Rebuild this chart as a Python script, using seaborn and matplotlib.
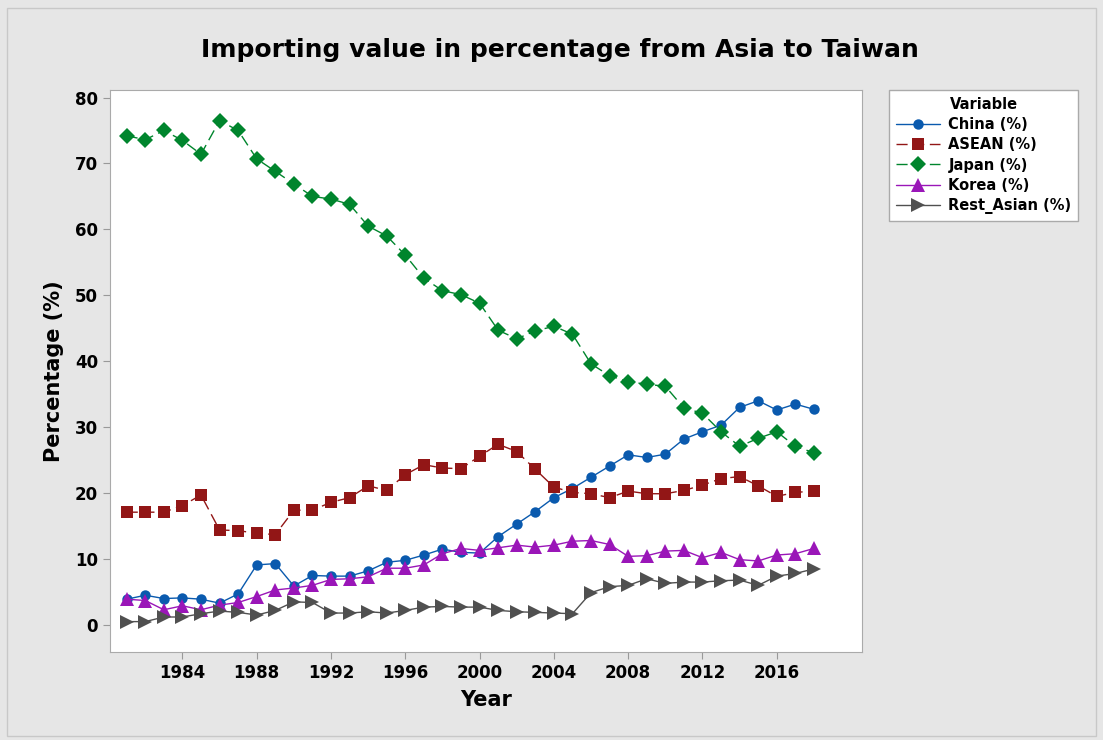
import matplotlib
matplotlib.use("Agg")
import matplotlib.pyplot as plt
import numpy as np
import pandas as pd
import seaborn as sns

years = list(range(1981, 2019))

china = [3.9, 4.5, 4.0, 4.1, 3.9, 3.3, 4.7, 9.1, 9.3, 5.9,
         7.5, 7.4, 7.4, 8.2, 9.5, 9.8, 10.6, 11.5, 11.0, 10.9,
         13.4, 15.3, 17.2, 19.3, 20.7, 22.4, 24.1, 25.8, 25.4, 25.9,
         28.2, 29.3, 30.3, 33.0, 34.0, 32.6, 33.5, 32.7]
asean = [17.1, 17.1, 17.1, 18.1, 19.7, 14.4, 14.3, 13.9, 13.7, 17.4,
         17.4, 18.6, 19.3, 21.1, 20.4, 22.8, 24.3, 23.8, 23.7, 25.6,
         27.4, 26.3, 23.6, 20.9, 20.1, 19.9, 19.3, 20.3, 19.9, 19.9,
         20.4, 21.2, 22.2, 22.5, 21.1, 19.5, 20.1, 20.3]
japan = [74.2, 73.6, 75.0, 73.5, 71.4, 76.5, 75.0, 70.7, 68.8, 66.9,
         65.0, 64.6, 63.8, 60.5, 59.0, 56.1, 52.6, 50.7, 50.1, 48.8,
         44.7, 43.4, 44.6, 45.3, 44.1, 39.6, 37.8, 36.9, 36.5, 36.2,
         32.9, 32.1, 29.3, 27.1, 28.3, 29.3, 27.1, 26.1]
korea = [3.9, 3.7, 2.3, 2.9, 2.3, 3.0, 3.4, 4.3, 5.3, 5.6,
         6.0, 6.9, 7.0, 7.3, 8.6, 8.6, 9.1, 10.8, 11.6, 11.3,
         11.7, 12.1, 11.8, 12.1, 12.7, 12.8, 12.2, 10.4, 10.5, 11.2,
         11.3, 10.2, 11.0, 9.9, 9.7, 10.6, 10.8, 11.6]
rest_asian = [0.5, 0.5, 1.2, 1.2, 1.7, 2.1, 1.9, 1.5, 2.2, 3.5,
              3.4, 1.8, 1.8, 2.0, 1.8, 2.2, 2.7, 2.8, 2.7, 2.7,
              2.2, 2.0, 1.9, 1.8, 1.7, 4.9, 5.8, 6.0, 7.0, 6.3,
              6.5, 6.5, 6.7, 6.8, 6.0, 7.4, 7.8, 8.5]

series_names = ["China (%)", "ASEAN (%)", "Japan (%)", "Korea (%)", "Rest_Asian (%)"]
x_ticks = [1984, 1988, 1992, 1996, 2000, 2004, 2008, 2012, 2016]
y_ticks = [0, 10, 20, 30, 40, 50, 60, 70, 80]

df = pd.DataFrame({"Year": years, "China (%)": china, "ASEAN (%)": asean,
                   "Japan (%)": japan, "Korea (%)": korea,
                   "Rest_Asian (%)": rest_asian})
long_df = df.melt(id_vars="Year", var_name="Variable", value_name="Percentage")

palette = {"China (%)": "#0A5AAE", "ASEAN (%)": "#921616", "Japan (%)": "#00852D",
           "Korea (%)": "#9A16B8", "Rest_Asian (%)": "#505050"}
markers = {"China (%)": "o", "ASEAN (%)": "s", "Japan (%)": "D",
           "Korea (%)": "^", "Rest_Asian (%)": ">"}
dashes = {"China (%)": "", "ASEAN (%)": (8, 4), "Japan (%)": (8, 4),
          "Korea (%)": "", "Rest_Asian (%)": ""}
msize = {"China (%)": 7.5, "ASEAN (%)": 8, "Japan (%)": 8,
         "Korea (%)": 9.5, "Rest_Asian (%)": 10}

sns.set_style("white")
plt.rcParams['font.family'] = ['DejaVu Sans']
plt.rcParams['text.color'] = 'black'
plt.rcParams['axes.labelcolor'] = 'black'
plt.rcParams['xtick.labelcolor'] = 'black'
plt.rcParams['ytick.labelcolor'] = 'black'

fig = plt.figure(figsize=(11.03, 7.40), dpi=100, facecolor="#e6e6e6")
ax = fig.add_axes([0.0997, 0.119, 0.682, 0.759])

for name in series_names:
    sub = long_df[long_df["Variable"] == name]
    sns.lineplot(data=sub, x="Year", y="Percentage", ax=ax,
                 color=palette[name], marker=markers[name],
                 markersize=msize[name], markeredgewidth=0,
                 linewidth=1.0, dashes=dashes[name], label=name)

ax.set_xlim(1980.1, 2020.6)
ax.set_ylim(-4.1, 81.1)
ax.set_xticks(x_ticks)
ax.set_yticks(y_ticks)
ax.tick_params(axis="both", direction="out", length=5, color="#999999",
               labelsize=12, bottom=True, left=True)
for lbl in ax.get_xticklabels() + ax.get_yticklabels():
    lbl.set_fontweight("bold")
for sp in ax.spines.values():
    sp.set_color("#aaaaaa")

ax.set_xlabel("Year", fontsize=15, fontweight="bold", labelpad=6)
ax.set_ylabel("Percentage (%)", fontsize=15, fontweight="bold", labelpad=8)
fig.suptitle("Importing value in percentage from Asia to Taiwan",
             x=0.508, y=0.948, fontsize=18, fontweight="bold")

handles, labels = ax.get_legend_handles_labels()
ax.get_legend().remove()
leg = fig.legend(handles, labels, title="Variable", loc="upper left",
                 bbox_to_anchor=(882 / 1103, 1 - 83 / 740),
                 fontsize=10.5, title_fontsize=10.5, frameon=True,
                 fancybox=False, edgecolor="#aaaaaa", facecolor="white",
                 framealpha=1.0, borderpad=0.45, labelspacing=0.36,
                 handlelength=3.0, handletextpad=0.6)
leg.get_frame().set_linewidth(1.0)
leg.get_title().set_fontweight("bold")
for t in leg.get_texts():
    t.set_fontweight("bold")

fig.patches.append(plt.Rectangle((0.006, 0.006), 0.988, 0.983, transform=fig.transFigure,
                                 fill=False, edgecolor="#c8c8c8", linewidth=1.0))

fig.savefig("out.png", dpi=100, facecolor=fig.get_facecolor())
